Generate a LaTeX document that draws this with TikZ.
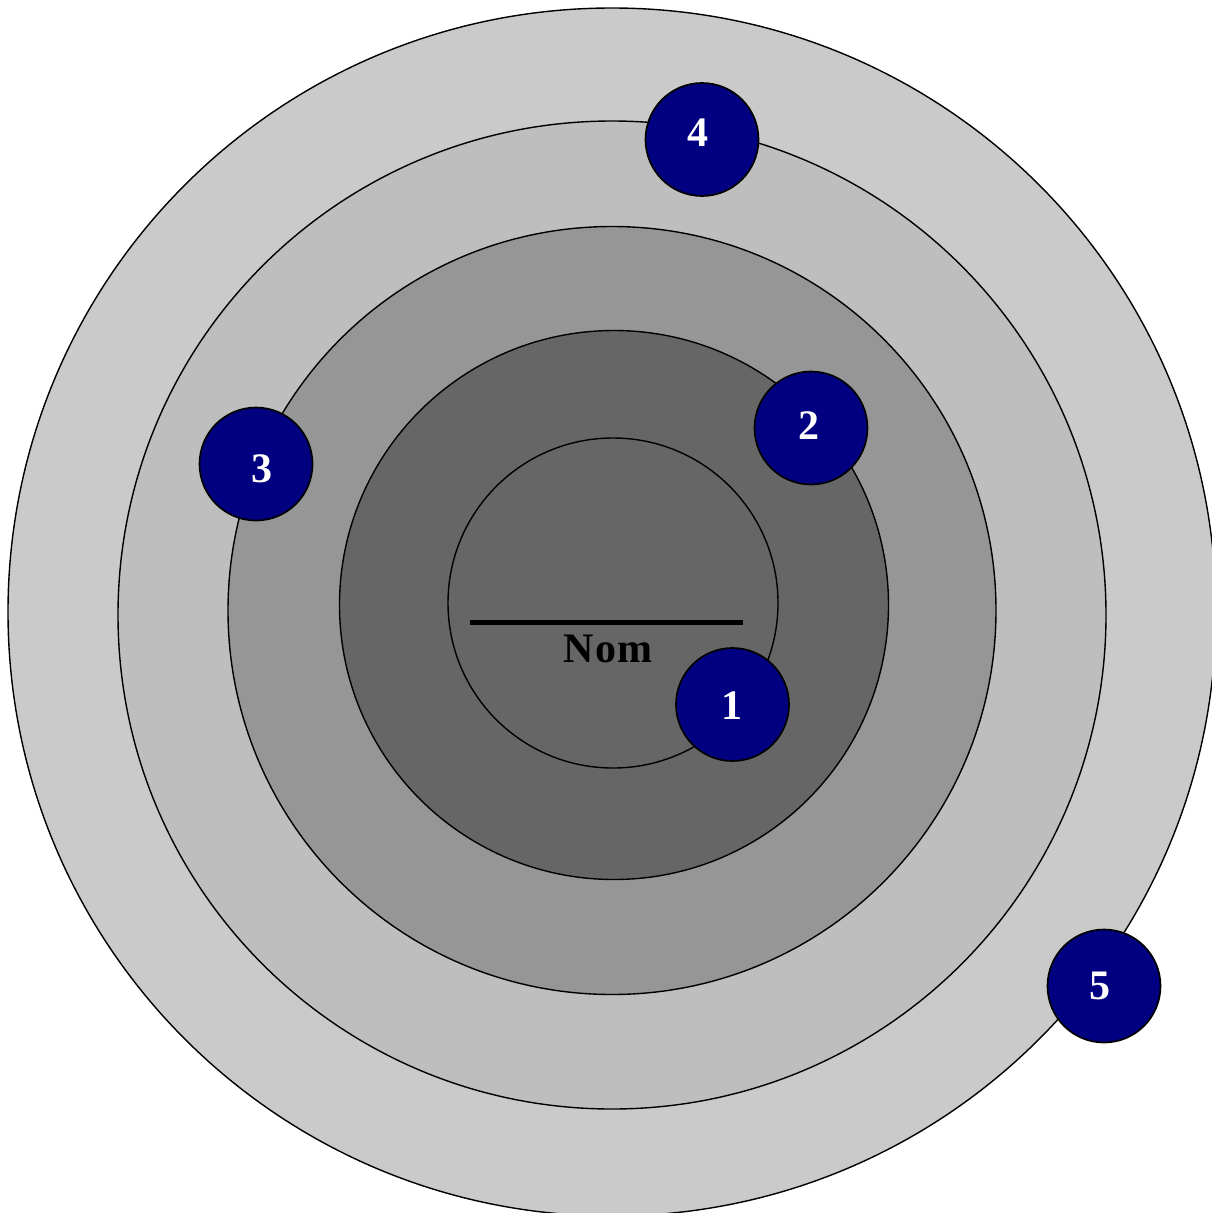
\documentclass[tikz,border=0pt]{standalone}
\usepackage{fontspec}
\setmainfont{Liberation Serif}
\newfontfamily\nomfont[LetterSpace=4]{Liberation Serif}
\begin{document}
\begin{tikzpicture}[x=1pt,y=-1pt,
  ring/.style={draw=black,line width=1.4pt},
  badge/.style={circle,draw=black,line width=1.7pt,fill=navy,minimum size=113pt,inner sep=0pt},
  num/.style={text=white,inner sep=0pt,font=\bfseries\fontsize{42}{42}\selectfont}]
\definecolor{navy}{HTML}{000080}
\definecolor{ringA}{HTML}{CACACA}
\definecolor{ringB}{HTML}{BEBEBE}
\definecolor{ringC}{HTML}{969696}
\definecolor{ringD}{HTML}{666666}
\useasboundingbox (0,0) rectangle (1212,1213);
\fill[white] (0,0) rectangle (1212,1213);
\begin{scope}
\clip (0,0) rectangle (1212,1213);
\draw[ring,fill=ringA] (612,612) circle (604);
\end{scope}
\draw[ring,fill=ringB] (612,615) circle (494);
\draw[ring,fill=ringC] (612,610.5) circle (384);
\draw[ring,fill=ringD] (614,605) circle (274.5);
\draw[ring,fill=ringD] (613,603) circle (165);
\coordinate (la) at (470,622.5);
\coordinate (lb) at (743,622.5);
\draw[line width=4.5pt] (la) -- (lb);
\node[font=\nomfont\bfseries\fontsize{42}{42}\selectfont,anchor=base] (nom) at (608,662.5) {Nom};
\node[badge] (b1) at (732.5,704.5) {};
\node[badge] (b2) at (811,428) {};
\node[badge] (b3) at (256,464) {};
\node[badge] (b4) at (702,139.5) {};
\node[badge] (b5) at (1104,986) {};
\node[num] (n1) at (732,706) {1};
\node[num] (n2) at (809,425.5) {2};
\node[num] (n3) at (261.5,468.5) {3};
\node[num] (n4) at (698,133) {4};
\node[num] (n5) at (1100,986) {5};
\end{tikzpicture}
\end{document}
